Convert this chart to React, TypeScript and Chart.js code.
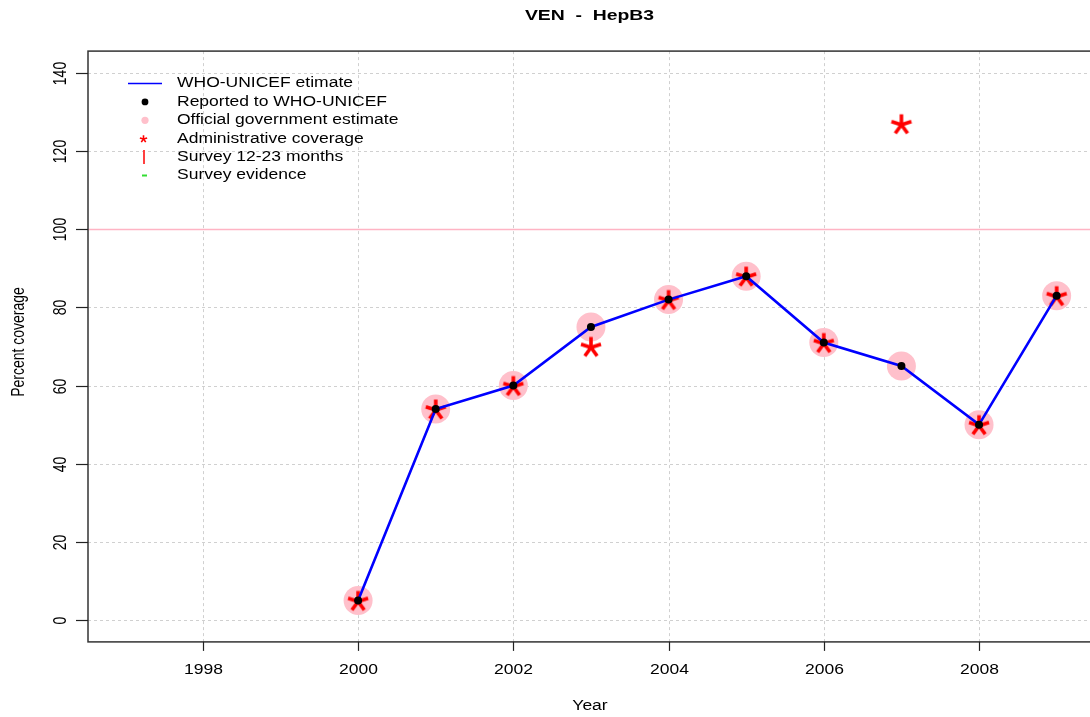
import React, { useEffect, useRef } from "react";
import { Chart, registerables } from "chart.js";

Chart.register(...registerables);

const years = [2000, 2001, 2002, 2003, 2004, 2005, 2006, 2007, 2008, 2009];
const whoUnicef = [5, 54, 60, 75, 82, 88, 71, 65, 50, 83];
const reported = [5, 54, 60, 75, 82, 88, 71, 65, 50, 83];
const officialGov = [5, 54, 60, 75, 82, 88, 71, 65, 50, 83];
const adminCoverage = [5, 54, 60, 70, 82, 88, 71, 127, 50, 83];

const xTicks = [1998, 2000, 2002, 2004, 2006, 2008];
const yTicks = [0, 20, 40, 60, 80, 100, 120, 140];
const legendLabels = [
  "WHO-UNICEF etimate",
  "Reported to WHO-UNICEF",
  "Official government estimate",
  "Administrative coverage",
  "Survey 12-23 months",
  "Survey evidence",
];
const titleText = "VEN  -  HepB3";
const xTitle = "Year";
const yTitle = "Percent coverage";

const FONT = "'Liberation Sans', Arial, Helvetica, sans-serif";
const SX = 1.25;
const W = 1090;
const H = 717;
const CW = 1100;

function stext(
  ctx: CanvasRenderingContext2D,
  text: string,
  x: number,
  y: number,
  font: string,
  align: CanvasTextAlign,
  rot = 0
) {
  ctx.save();
  ctx.translate(x, y);
  ctx.scale(SX, 1);
  if (rot) ctx.rotate(rot);
  ctx.font = font;
  ctx.fillStyle = "#000";
  ctx.textAlign = align;
  ctx.textBaseline = "middle";
  ctx.fillText(text, 0, 0);
  ctx.restore();
}

function drawStar(ctx: CanvasRenderingContext2D, cx: number, cy: number, L: number, lw: number, color: string) {
  ctx.save();
  ctx.strokeStyle = color;
  ctx.lineWidth = lw;
  ctx.lineCap = "butt";
  const oy = cy + (L - 0.809 * L) / 2;
  for (let k = 0; k < 5; k++) {
    const a = -Math.PI / 2 + (k * 2 * Math.PI) / 5;
    ctx.beginPath();
    ctx.moveTo(cx, oy);
    ctx.lineTo(cx + L * Math.cos(a), oy + L * Math.sin(a));
    ctx.stroke();
  }
  ctx.restore();
}

function makeStarCanvas(): HTMLCanvasElement {
  const c = document.createElement("canvas");
  c.width = 28;
  c.height = 28;
  const ctx = c.getContext("2d")!;
  drawStar(ctx, 14, 14, 10.5, 3.6, "#ff0000");
  return c;
}

const rPlugin = {
  id: "rstyle",
  beforeDatasetsDraw(chart: any) {
    const ctx: CanvasRenderingContext2D = chart.ctx;
    const { left, right, top, bottom } = chart.chartArea;
    const xs = chart.scales.x;
    const ys = chart.scales.y;
    ctx.save();
    ctx.strokeStyle = "#d0d0d0";
    ctx.lineWidth = 1;
    ctx.setLineDash([3, 3]);
    for (const t of xTicks) {
      const px = Math.round(xs.getPixelForValue(t)) + 0.5;
      ctx.beginPath();
      ctx.moveTo(px, top);
      ctx.lineTo(px, bottom);
      ctx.stroke();
    }
    for (const t of yTicks) {
      if (t === 100) continue;
      const py = Math.round(ys.getPixelForValue(t)) + 0.5;
      ctx.beginPath();
      ctx.moveTo(left, py);
      ctx.lineTo(right, py);
      ctx.stroke();
    }
    ctx.setLineDash([]);
    ctx.strokeStyle = "#ffb4c4";
    ctx.lineWidth = 1.5;
    const p100 = Math.round(ys.getPixelForValue(100)) + 0.5;
    ctx.beginPath();
    ctx.moveTo(left, p100);
    ctx.lineTo(right, p100);
    ctx.stroke();
    ctx.restore();
  },
  afterDraw(chart: any) {
    const ctx: CanvasRenderingContext2D = chart.ctx;
    const { left, right, top, bottom } = chart.chartArea;
    const xs = chart.scales.x;
    const ys = chart.scales.y;
    ctx.save();
    // frame
    ctx.strokeStyle = "#333";
    ctx.lineWidth = 1.5;
    ctx.strokeRect(left, top, right - left, bottom - top);
    // ticks
    ctx.lineWidth = 1.2;
    ctx.strokeStyle = "#222";
    const tickFont = `14px ${FONT}`;
    for (const t of xTicks) {
      const px = Math.round(xs.getPixelForValue(t)) + 0.5;
      ctx.beginPath();
      ctx.moveTo(px, bottom);
      ctx.lineTo(px, bottom + 9);
      ctx.stroke();
      stext(ctx, String(t), px, 670, tickFont, "center");
    }
    for (const t of yTicks) {
      const py = Math.round(ys.getPixelForValue(t)) + 0.5;
      ctx.beginPath();
      ctx.moveTo(left, py);
      ctx.lineTo(left - 12, py);
      ctx.stroke();
      stext(ctx, String(t), 61, py, tickFont, "center", -Math.PI / 2);
    }
    // titles
    stext(ctx, titleText, 589.5, 15.5, `bold 15.5px ${FONT}`, "center");
    stext(ctx, xTitle, 590, 706, `14px ${FONT}`, "center");
    stext(ctx, yTitle, 19, 342, `14px ${FONT}`, "center", -Math.PI / 2);

    // legend
    const rowY = (i: number) => 83.5 + 18.4 * i;
    const sxm = 145;
    ctx.strokeStyle = "#0000ff";
    ctx.lineWidth = 1.6;
    ctx.beginPath();
    ctx.moveTo(128, rowY(0));
    ctx.lineTo(162, rowY(0));
    ctx.stroke();
    ctx.fillStyle = "#000";
    ctx.beginPath();
    ctx.arc(sxm, rowY(1), 3.4, 0, Math.PI * 2);
    ctx.fill();
    ctx.fillStyle = "#ffc0cb";
    ctx.beginPath();
    ctx.arc(sxm, rowY(2), 3.6, 0, Math.PI * 2);
    ctx.fill();
    drawStar(ctx, 143.5, rowY(3), 3.8, 1.6, "#ff0000");
    ctx.strokeStyle = "#ff4040";
    ctx.lineWidth = 2;
    ctx.beginPath();
    ctx.moveTo(144, rowY(4) - 7);
    ctx.lineTo(144, rowY(4) + 7);
    ctx.stroke();
    ctx.strokeStyle = "#33dd33";
    ctx.lineWidth = 2;
    ctx.beginPath();
    ctx.moveTo(142, rowY(5));
    ctx.lineTo(147, rowY(5));
    ctx.stroke();
    legendLabels.forEach((lab, i) => {
      stext(ctx, lab, 177, rowY(i), `14px ${FONT}`, "left");
    });
    ctx.restore();
  },
};

export default function App() {
  const ref = useRef<HTMLCanvasElement | null>(null);
  useEffect(() => {
    if (!ref.current) return;
    const star = makeStarCanvas();
    const chart = new Chart(ref.current, {
      type: "scatter",
      data: {
        datasets: [
          {
            label: "Reported to WHO-UNICEF",
            data: years.map((y, i) => ({ x: y, y: reported[i] })),
            pointRadius: 4,
            backgroundColor: "#000",
            borderWidth: 0,
            showLine: false,
          },
          {
            label: "WHO-UNICEF etimate",
            data: years.map((y, i) => ({ x: y, y: whoUnicef[i] })),
            showLine: true,
            borderColor: "#0000ff",
            borderWidth: 2.6,
            pointRadius: 0,
            tension: 0,
          },
          {
            label: "Administrative coverage",
            data: years.map((y, i) => ({ x: y, y: adminCoverage[i] })),
            pointStyle: star as any,
            pointRadius: 10,
            showLine: false,
          },
          {
            label: "Official government estimate",
            data: years.map((y, i) => ({ x: y, y: officialGov[i] })),
            pointRadius: 14.5,
            backgroundColor: "#ffc0cb",
            borderWidth: 0,
            showLine: false,
          },
        ] as any,
      },
      options: {
        animation: false,
        responsive: false,
        maintainAspectRatio: false,
        devicePixelRatio: 1,
        layout: {
          autoPadding: false,
          padding: { left: 88, right: CW - 1093.9, top: 51.1, bottom: H - 641.9 },
        },
        plugins: { legend: { display: false }, tooltip: { enabled: false }, title: { display: false } },
        elements: { point: { hoverRadius: 0 } } as any,
        scales: {
          x: { type: "linear", min: 1996.52, max: 2009.48, display: false },
          y: { type: "linear", min: -5.6, max: 145.6, display: false },
        },
      } as any,
      plugins: [rPlugin],
    });
    return () => chart.destroy();
  }, []);
  return (
    <div
      style={{
        position: "absolute",
        left: 0,
        top: 0,
        width: W,
        height: H,
        overflow: "hidden",
        background: "#fff",
      }}
    >
      <canvas ref={ref} width={CW} height={H} style={{ display: "block", width: CW, height: H }} />
    </div>
  );
}
